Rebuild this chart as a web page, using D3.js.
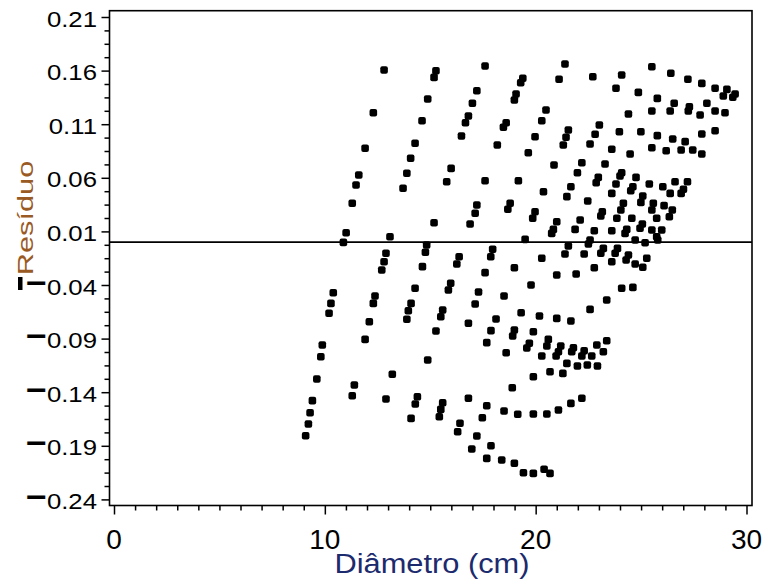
<!DOCTYPE html>
<html><head><meta charset="utf-8">
<script src="https://cdn.jsdelivr.net/npm/d3@7"></script>
<style>body{margin:0;background:#fff}svg{display:block}</style>
</head><body>
<svg id="c" width="765" height="584"></svg>
<script>
const diameter = [
12.81,12.30,11.91,11.61,11.48,11.30,11.01,10.88,13.09,12.90,
12.81,12.70,15.27,15.18,14.88,14.61,14.28,14.07,13.89,13.71,
15.18,14.83,14.77,14.63,14.28,17.60,17.21,17.00,16.81,16.67,
16.48,15.99,15.78,17.21,17.13,16.89,16.37,16.26,15.97,17.96,
17.87,17.60,17.29,19.39,19.29,19.07,18.99,18.60,18.47,18.18,
17.60,19.18,18.79,18.68,19.50,18.99,19.65,15.86,
21.39,21.11,22.71,24.08,25.51,26.41,27.22,27.88,28.51,29.07,
28.90,29.46,29.35,23.81,24.87,25.77,26.57,26.38,25.51,24.40,
27.29,27.24,28.12,27.80,28.51,28.98,20.49,20.29,19.97,21.55,
21.44,21.31,23.02,22.82,22.58,23.97,24.99,25.77,26.50,27.09,
27.88,28.51,23.61,24.48,25.51,26.19,26.90,27.45,27.88,20.87,
22.19,21.98,23.29,24.08,24.00,20.37,21.67,21.48,22.97,22.87,
23.81,24.76,24.61,24.51,25.39,26.03,26.61,27.20,27.01,26.90,
26.38,23.61,22.47,25.08,24.99,25.58,26.09,26.48,26.34,25.51,
25.74,24.16,24.04,23.85,23.16,23.09,19.97,19.86,21.00,20.84,
20.76,22.11,21.87,22.78,23.61,24.32,24.24,24.56,25.06,24.95,
25.51,25.98,25.74,25.79,22.58,22.50,21.55,21.39,22.30,23.21,
23.09,23.88,23.77,23.61,24.40,24.29,24.72,25.19,25.27,24.72,
25.08,20.29,22.78,21.00,21.92,19.78,24.08,24.61,
12.38,12.30,12.11,11.91,10.40,10.29,10.20,14.09,13.96,13.89,
15.59,15.50,15.27,17.13,16.81,18.12,17.88,17.68,18.99,18.91,
18.60,19.31,19.58,18.50,9.88,9.81,9.62,9.41,9.30,9.22,
9.09,14.88,13.20,11.40,11.30,12.90,14.39,14.29,14.09,15.59,
15.50,15.43,16.81,16.41,16.30,17.68,17.47,17.21,16.97,17.88,
17.68,18.39,18.99,19.42,18.50,19.15,18.89,
23.37,22.58,20.18,21.00,21.67,19.89,19.70,20.60,20.53,20.29,
21.19,21.08,20.97,21.79,21.71,21.48,22.30,22.19,21.98,22.90,
22.66,22.45,23.37,23.21,22.93,19.89,20.68,21.29,19.89,20.53,
21.08,21.67,22.19,19.89,20.40,20.68
];
const residual = [
0.1605,0.1207,0.0875,0.0626,0.0533,0.0362,0.0088,-0.0002,0.0050,-0.0104,
-0.0183,-0.0260,0.1599,0.1537,0.1335,0.1132,0.0922,0.0782,0.0642,0.0502,
0.0181,-0.0027,-0.0095,-0.0229,-0.0431,0.1643,0.1412,0.1295,0.1176,0.1114,
0.0990,0.0688,0.0563,0.0346,0.0269,0.0169,-0.0136,-0.0204,-0.0384,-0.0067,
-0.0136,-0.0285,-0.0465,0.1528,0.1487,0.1382,0.1326,0.1114,0.1071,0.0906,
0.0573,0.0573,0.0362,0.0306,0.0026,-0.0239,0.0834,-0.0447,
0.1661,0.1519,0.1543,0.1559,0.1636,0.1575,0.1519,0.1481,0.1435,0.1425,
0.1363,0.1382,0.1351,0.1435,0.1397,0.1341,0.1295,0.1223,0.1223,0.1195,
0.1263,0.1223,0.1295,0.1186,0.1223,0.1207,0.1232,0.1132,0.0983,0.1046,
0.0978,0.0906,0.1092,0.1006,0.0915,0.1030,0.1030,0.0993,0.0962,0.0937,
0.1008,0.1039,0.0866,0.0822,0.0881,0.0853,0.0859,0.0859,0.0822,0.0719,
0.0741,0.0647,0.0729,0.0647,0.0617,0.0470,0.0517,0.0424,0.0604,0.0554,
0.0542,0.0604,0.0517,0.0479,0.0542,0.0517,0.0563,0.0563,0.0493,0.0455,
0.0455,0.0455,0.0383,0.0430,0.0371,0.0362,0.0340,0.0299,0.0237,0.0299,
0.0222,0.0362,0.0299,0.0222,0.0284,0.0243,0.0284,0.0222,0.0190,0.0119,
0.0082,0.0206,0.0119,0.0106,0.0106,0.0119,0.0082,0.0222,0.0169,0.0129,
0.0113,0.0113,0.0050,0.0020,0.0020,-0.0018,-0.0036,-0.0111,-0.0111,-0.0058,
-0.0104,-0.0058,-0.0104,-0.0183,-0.0120,-0.0167,0.0020,-0.0006,-0.0151,-0.0204,
-0.0235,-0.0151,-0.0239,-0.0307,-0.0298,-0.0400,-0.0431,-0.0422,
-0.0503,-0.0571,-0.0743,-0.0907,-0.0472,-0.0571,-0.0664,-0.0571,-0.0640,-0.0720,
-0.0633,-0.0696,-0.0829,-0.0577,-0.0757,-0.0717,-0.0826,-0.0938,-0.0820,-0.0876,
-0.1032,-0.0659,-0.0988,-0.0503,-0.0960,-0.1069,-0.1277,-0.1479,-0.1591,-0.1697,
-0.1806,-0.1100,-0.1233,-0.1333,-0.1433,-0.1464,-0.1442,-0.1510,-0.1644,-0.1498,
-0.1560,-0.1629,-0.1457,-0.1690,-0.1769,-0.1526,-0.1638,-0.1809,-0.1930,-0.1899,
-0.2017,-0.2033,-0.2063,-0.2151,-0.1576,-0.1606,-0.1358,
-0.0540,-0.0627,-0.0689,-0.0711,-0.0736,-0.0836,-0.0944,-0.0907,-0.0969,-0.1063,
-0.0969,-0.1022,-0.1063,-0.0985,-0.1022,-0.1131,-0.1013,-0.1063,-0.1156,-0.0960,
-0.1063,-0.1146,-0.0920,-0.1022,-0.1156,-0.1256,-0.1209,-0.1224,-0.1604,-0.1604,
-0.1566,-0.1504,-0.1457,-0.2157,-0.2119,-0.2157
];
const xMajorTicks = [0, 10, 20, 30];
const xTickLabels = ["0", "10", "20", "30"];
const yMajorTicks = [0.21, 0.16, 0.11, 0.06, 0.01, -0.04, -0.09, -0.14, -0.19, -0.24];
const yTickLabels = ["0.21", "0.16", "0.11", "0.06", "0.01", "\u22120.04", "\u22120.09", "\u22120.14", "\u22120.19", "\u22120.24"];
const xTitle = "Diâmetro (cm)";
const yTitle = "Resíduo";

const svg = d3.select("#c");
const FONT = "'Liberation Sans', Arial, Helvetica, sans-serif";
const x = d3.scaleLinear().domain([0, 30]).range([114, 746.5]);
const y = d3.scaleLinear().domain([-0.24, 0.21]).range([499.4, 17]);
const frame = {l: 109.5, r: 752, t: 10.7, b: 505.5};

// minor ticks
const xMinor = d3.range(0, 31).filter(v => v % 10 !== 0);
const yMinor = [];
for (let i = 0; i < yMajorTicks.length - 1; i++) {
  for (let k = 1; k <= 3; k++) yMinor.push(yMajorTicks[i + 1] + k * (yMajorTicks[i] - yMajorTicks[i + 1]) / 4);
}

function styleAxis(g) {
  g.select(".domain").remove();
  g.selectAll(".tick line").attr("stroke", "#000").attr("stroke-width", 1.5);
  g.selectAll(".tick text").remove();
}
svg.append("g").attr("transform", `translate(0,${frame.b})`)
  .call(d3.axisBottom(x).tickValues(xMajorTicks).tickSize(9).tickFormat("")).call(styleAxis);
svg.append("g").attr("transform", `translate(0,${frame.b})`)
  .call(d3.axisBottom(x).tickValues(xMinor).tickSize(5).tickFormat("")).call(styleAxis);
svg.append("g").attr("transform", `translate(${frame.l},0)`)
  .call(d3.axisLeft(y).tickValues(yMajorTicks).tickSize(8).tickFormat("")).call(styleAxis);
svg.append("g").attr("transform", `translate(${frame.l},0)`)
  .call(d3.axisLeft(y).tickValues(yMinor).tickSize(5).tickFormat("")).call(styleAxis);

// frame
svg.append("rect").attr("x", frame.l).attr("y", frame.t)
  .attr("width", frame.r - frame.l).attr("height", frame.b - frame.t)
  .attr("fill", "none").attr("stroke", "#000").attr("stroke-width", 1.6);

// zero line
svg.append("line").attr("x1", frame.l).attr("x2", frame.r)
  .attr("y1", y(0)).attr("y2", y(0)).attr("stroke", "#000").attr("stroke-width", 1.8);

// x tick labels
svg.append("g").selectAll("text").data(xMajorTicks).join("text")
  .attr("x", d => x(d)).attr("y", 549)
  .attr("text-anchor", "middle").attr("font-family", FONT).attr("font-size", 28)
  .attr("fill", "#000").text((d, i) => xTickLabels[i]);

// y tick labels
const yl = svg.append("g").selectAll("g").data(yMajorTicks).join("g")
  .attr("transform", d => `translate(97,${y(d) + 9.5}) scale(1.12,1)`);
yl.append("text").attr("text-anchor", "end").attr("font-family", FONT).attr("font-size", 23)
  .attr("fill", "#000")
  .each(function(d, i) {
    const lab = yTickLabels[i];
    const t = d3.select(this);
    if (lab.startsWith("\u2212")) {
      t.append("tspan").attr("font-size", 32).attr("font-weight", "bold").attr("dy", -1).text("\u2212");
      t.append("tspan").attr("dy", 1).text(lab.slice(1));
    } else t.text(lab);
  });

// axis titles
svg.append("g").attr("transform", "translate(432,573) scale(1.1,1)")
  .append("text").attr("text-anchor", "middle").attr("font-family", FONT)
  .attr("font-size", 28).attr("fill", "#1c2a6e").text(xTitle);
svg.append("g").attr("transform", "translate(33,218) rotate(-90) scale(1.4,1)")
  .append("text").attr("text-anchor", "middle").attr("font-family", FONT)
  .attr("font-size", 22).attr("fill", "#9a5a24").text(yTitle);
svg.append("rect").attr("x", 18).attr("y", 277).attr("width", 4.5).attr("height", 13).attr("fill", "#000");

// points
const pts = d3.range(diameter.length).map(i => ({d: diameter[i], r: residual[i]}));
svg.append("g").selectAll("rect").data(pts).join("rect")
  .attr("x", p => x(p.d) - 3.8).attr("y", p => y(p.r) - 3.8)
  .attr("width", 7.6).attr("height", 7.6).attr("rx", 2)
  .attr("fill", "#000");
</script>
</body></html>
